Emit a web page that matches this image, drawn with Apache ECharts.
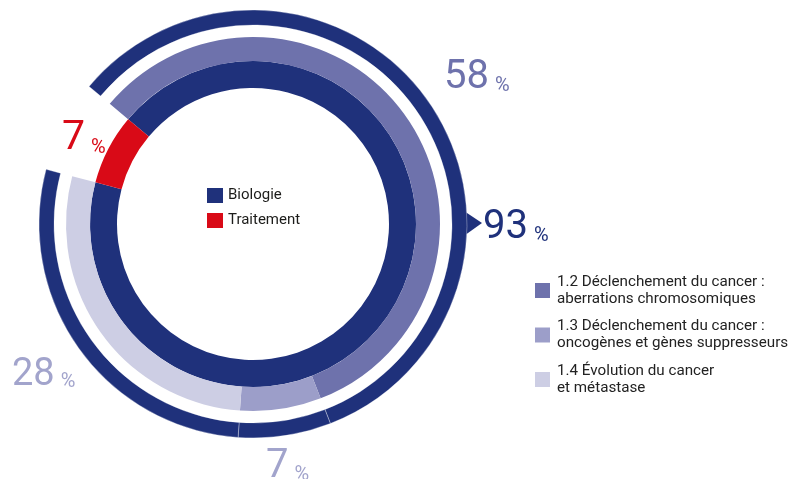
<!DOCTYPE html>
<html>
<head>
<meta charset="utf-8">
<script src="https://cdn.jsdelivr.net/npm/echarts@6/dist/echarts.min.js"></script>
<style>
  html, body { margin: 0; padding: 0; background: #ffffff; }
  #chart { width: 809px; height: 479px; }
</style>
</head>
<body>
<div id="chart"></div>
<script>
// Inner ring: share of the field
const fieldNames = ['Biologie', 'Traitement'];
const fieldValues = [93, 7];

// Middle ring: topics inside "Biologie"
const topicNames = [
  '1.2 Déclenchement du cancer :\naberrations chromosomiques',
  '1.3 Déclenchement du cancer :\noncogènes et gènes suppresseurs',
  '1.4 Évolution du cancer\net métastase'
];
const topicValues = [58, 7, 28];

// ---- styling / layout (kept apart from the values) ----
const CX = 253, CY = 224;
const R_INNER = [136, 163];
const R_MIDDLE = [163, 187];
const R_OUTER = [199, 214];
const START = 140;

const NAVY = '#1f317b';
const RED = '#d90a17';
const fieldColors = [NAVY, RED];
const topicColors = ['#6e72ac', '#9c9ec9', '#cdcee4'];
const topicLabelColors = ['#6e72ac', '#a2a4cc', '#a2a4cc'];

// label anchors as offsets from the centre (left edge, vertical middle)
const fieldLabelOffsets = [[230, 4], [-191, -85]];
const topicLabelOffsets = [[191, -146], [13, 243], [-241, 151]];

const FONT = 'Roboto, "Noto Sans", sans-serif';

function pctRich(color, big) {
  return {
    n: { fontFamily: FONT, fontWeight: 400, fontSize: big, color: color, verticalAlign: 'bottom', lineHeight: big },
    p: { fontFamily: FONT, fontWeight: 400, fontSize: 20, color: color, verticalAlign: 'bottom', lineHeight: big, padding: [0, 0, 2, 6] }
  };
}
function pctFormatter(p) { return '{n|' + p.value + '}{p|%}'; }

function placeLabel(offsets) {
  return function (params) {
    const o = offsets[params.dataIndex];
    if (!o) return {};
    return { x: CX + o[0], y: CY + o[1], align: 'left', verticalAlign: 'middle' };
  };
}

// the remainder of the circle (the "Traitement" share) stays empty in the outer rings
const biologyTotal = topicValues.reduce((a, b) => a + b, 0);
const remainder = fieldValues.reduce((a, b) => a + b, 0) - biologyTotal;

const innerData = fieldNames.map((name, i) => ({
  name: name,
  value: fieldValues[i],
  itemStyle: { color: fieldColors[i] },
  label: { show: true, formatter: pctFormatter, rich: pctRich(fieldColors[i], i === 0 ? 40 : 41) }
}));

const middleData = topicNames.map((name, i) => ({
  name: name,
  value: topicValues[i],
  itemStyle: { color: topicColors[i] },
  label: { show: true, formatter: pctFormatter, rich: pctRich(topicLabelColors[i], i === 2 ? 38 : 40) }
})).concat([{ name: '', value: remainder, itemStyle: { color: 'rgba(0,0,0,0)' }, label: { show: false } }]);

const outerData = topicNames.map((name, i) => ({
  name: 'Biologie ' + (i + 2),
  value: topicValues[i],
  itemStyle: { color: NAVY, borderColor: 'rgba(255,255,255,0.55)', borderWidth: 0.6 }
})).concat([{ name: 'reste', value: remainder, itemStyle: { color: 'rgba(0,0,0,0)' } }]);

const pieBase = {
  type: 'pie',
  center: [CX, CY],
  startAngle: START,
  clockwise: true,
  avoidLabelOverlap: false,
  silent: true,
  emphasis: { disabled: true },
  labelLine: { show: false },
  label: { position: 'outside' }
};

const chart = echarts.init(document.getElementById('chart'), null, { renderer: 'canvas' });
chart.setOption({
  animation: false,
  backgroundColor: '#ffffff',
  legend: [
    {
      orient: 'vertical', left: 207, top: 188, padding: 0,
      itemWidth: 16, itemHeight: 15, itemGap: 10, icon: 'rect',
      selectedMode: false,
      data: fieldNames,
      textStyle: { fontFamily: FONT, fontSize: 15, color: '#1d1d1b' }
    },
    {
      orient: 'vertical', left: 535, top: 265, padding: 0,
      itemWidth: 15, itemHeight: 15, itemGap: -6.5, icon: 'rect',
      selectedMode: false,
      data: topicNames,
      textStyle: { fontFamily: FONT, fontSize: 15.2, lineHeight: 17, color: '#222222', padding: [17, 0, 0, 2] }
    }
  ],
  series: [
    Object.assign({}, pieBase, {
      name: 'field', radius: R_INNER, data: innerData,
      labelLayout: placeLabel(fieldLabelOffsets)
    }),
    Object.assign({}, pieBase, {
      name: 'topics', radius: R_MIDDLE, data: middleData,
      labelLayout: placeLabel(topicLabelOffsets)
    }),
    Object.assign({}, pieBase, {
      name: 'biology', radius: R_OUTER, data: outerData,
      label: { show: false }
    })
  ],
  graphic: [
    {
      // pointer on the outer ring towards the 93 % figure
      type: 'polygon',
      silent: true,
      shape: {
        points: [
          [CX + R_OUTER[1] - 6, CY - 15],
          [CX + R_OUTER[1] + 15, CY - 1],
          [CX + R_OUTER[1] - 6, CY + 14]
        ]
      },
      style: { fill: NAVY }
    }
  ]
});
</script>
</body>
</html>
